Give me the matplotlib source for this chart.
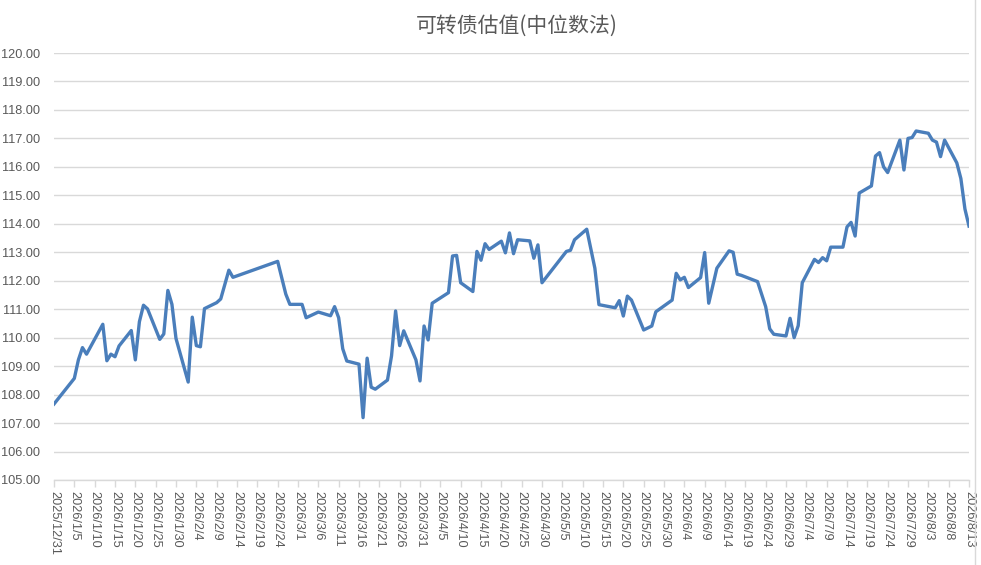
import matplotlib
matplotlib.use("Agg")
import matplotlib.pyplot as plt
from matplotlib.lines import Line2D
import pandas as pd

plt.rcParams['font.family'] = ['Noto Sans CJK SC', 'DejaVu Sans']

title = "可转债估值(中位数法)"

dates = [
    "2025-12-31", "2026-01-05", "2026-01-06", "2026-01-07", "2026-01-08", "2026-01-12",
    "2026-01-13", "2026-01-14", "2026-01-15", "2026-01-16", "2026-01-19", "2026-01-20",
    "2026-01-21", "2026-01-22", "2026-01-23", "2026-01-26", "2026-01-27", "2026-01-28",
    "2026-01-29", "2026-01-30", "2026-02-02", "2026-02-03", "2026-02-04", "2026-02-05",
    "2026-02-06", "2026-02-09", "2026-02-10", "2026-02-12", "2026-02-13", "2026-02-24",
    "2026-02-26", "2026-02-27", "2026-03-02", "2026-03-03", "2026-03-06", "2026-03-09",
    "2026-03-10", "2026-03-11", "2026-03-12", "2026-03-13", "2026-03-16", "2026-03-17",
    "2026-03-18", "2026-03-19", "2026-03-20", "2026-03-23", "2026-03-24", "2026-03-25",
    "2026-03-26", "2026-03-27", "2026-03-30", "2026-03-31", "2026-04-01", "2026-04-02",
    "2026-04-03", "2026-04-07", "2026-04-08", "2026-04-09", "2026-04-10", "2026-04-13",
    "2026-04-14", "2026-04-15", "2026-04-16", "2026-04-17", "2026-04-20", "2026-04-21",
    "2026-04-22", "2026-04-23", "2026-04-24", "2026-04-27", "2026-04-28", "2026-04-29",
    "2026-04-30", "2026-05-06", "2026-05-07", "2026-05-08", "2026-05-11", "2026-05-13",
    "2026-05-14", "2026-05-18", "2026-05-19", "2026-05-20", "2026-05-21", "2026-05-22",
    "2026-05-25", "2026-05-27", "2026-05-28", "2026-06-01", "2026-06-02", "2026-06-03",
    "2026-06-04", "2026-06-05", "2026-06-08", "2026-06-09", "2026-06-10", "2026-06-12",
    "2026-06-15", "2026-06-16", "2026-06-17", "2026-06-18", "2026-06-22", "2026-06-23",
    "2026-06-24", "2026-06-25", "2026-06-26", "2026-06-29", "2026-06-30", "2026-07-01",
    "2026-07-02", "2026-07-03", "2026-07-06", "2026-07-07", "2026-07-08", "2026-07-09",
    "2026-07-10", "2026-07-13", "2026-07-14", "2026-07-15", "2026-07-16", "2026-07-17",
    "2026-07-20", "2026-07-21", "2026-07-22", "2026-07-23", "2026-07-24", "2026-07-27",
    "2026-07-28", "2026-07-29", "2026-07-30", "2026-07-31", "2026-08-03", "2026-08-04",
    "2026-08-05", "2026-08-06", "2026-08-07", "2026-08-10", "2026-08-11", "2026-08-12",
    "2026-08-13",
]

values = [
    107.67, 108.57, 109.22, 109.65, 109.42, 110.47,
    109.19, 109.42, 109.33, 109.71, 110.25, 109.22,
    110.56, 111.14, 111.01, 109.94, 110.13, 111.66,
    111.17, 109.97, 108.44, 110.72, 109.72, 109.68,
    111.02, 111.23, 111.36, 112.37, 112.12, 112.68,
    111.53, 111.17, 111.17, 110.70, 110.90, 110.77,
    111.09, 110.70, 109.61, 109.18, 109.07, 107.19,
    109.28, 108.26, 108.19, 108.51, 109.36, 110.94,
    109.72, 110.24, 109.22, 108.48, 110.41, 109.92,
    111.21, 111.58, 112.87, 112.89, 111.93, 111.62,
    113.03, 112.72, 113.30, 113.10, 113.39, 112.98,
    113.68, 112.95, 113.44, 113.40, 112.79, 113.26,
    111.93, 113.03, 113.07, 113.44, 113.81, 112.44,
    111.16, 111.05, 111.30, 110.76, 111.46, 111.32,
    110.27, 110.41, 110.91, 111.32, 112.26, 112.03,
    112.12, 111.76, 112.11, 112.99, 111.21, 112.44,
    113.05, 113.00, 112.23, 112.19, 111.97, 111.53,
    111.09, 110.31, 110.12, 110.06, 110.68, 110.00,
    110.42, 111.93, 112.75, 112.64, 112.81, 112.70,
    113.18, 113.18, 113.89, 114.05, 113.57, 115.08,
    115.33, 116.38, 116.50, 116.00, 115.80, 116.94,
    115.89, 117.00, 117.03, 117.26, 117.18, 116.94,
    116.87, 116.36, 116.94, 116.14, 115.59, 114.52,
    113.92,
]

y_ticks = [105 + i for i in range(16)]
x_start = "2025-12-31"
x_end = "2026-08-13"

x = pd.to_datetime(dates)

fig = plt.figure(figsize=(9.81, 5.65), dpi=100)
ax = fig.add_axes([54 / 981, 1 - 480 / 565, (969 - 54) / 981, (480 - 53) / 565])

ax.plot(x, values, color="#4a7ebb", lw=2.4, solid_joinstyle="round")

tick_font = ["Liberation Sans", "DejaVu Sans"]
ax.set_ylim(105, 120)
ax.set_yticks(y_ticks)
ax.set_yticklabels([f"{v:.2f}" for v in y_ticks], family=tick_font)
ax.set_xlim(pd.Timestamp(x_start), pd.Timestamp(x_end))
xt = pd.date_range(x_start, x_end, freq="5D")
ax.set_xticks(xt)
ax.set_xticklabels([f"{d.year}/{d.month}/{d.day}" for d in xt], rotation=-90,
                   ha="center", va="top", family=tick_font)

ax.grid(axis="y", color="#d9d9d9", lw=1)
ax.set_axisbelow(True)
for s in ["top", "right", "left"]:
    ax.spines[s].set_visible(False)
ax.spines["bottom"].set_color("#d9d9d9")
ax.spines["bottom"].set_linewidth(1)
ax.tick_params(axis="y", length=0, labelsize=9.2, labelcolor="#595959", pad=10)
ax.tick_params(axis="x", length=5, width=1, color="#d9d9d9", labelsize=9.2,
               labelcolor="#595959", pad=3)

fig.text(517 / 981, 1 - 26 / 565, title, ha="center", va="center",
         fontsize=15, color="#595959")

fig.add_artist(Line2D([975 / 981, 975 / 981], [0, 1], color="#d9d9d9", lw=1))

fig.savefig("out.png", dpi=100, facecolor="white")
